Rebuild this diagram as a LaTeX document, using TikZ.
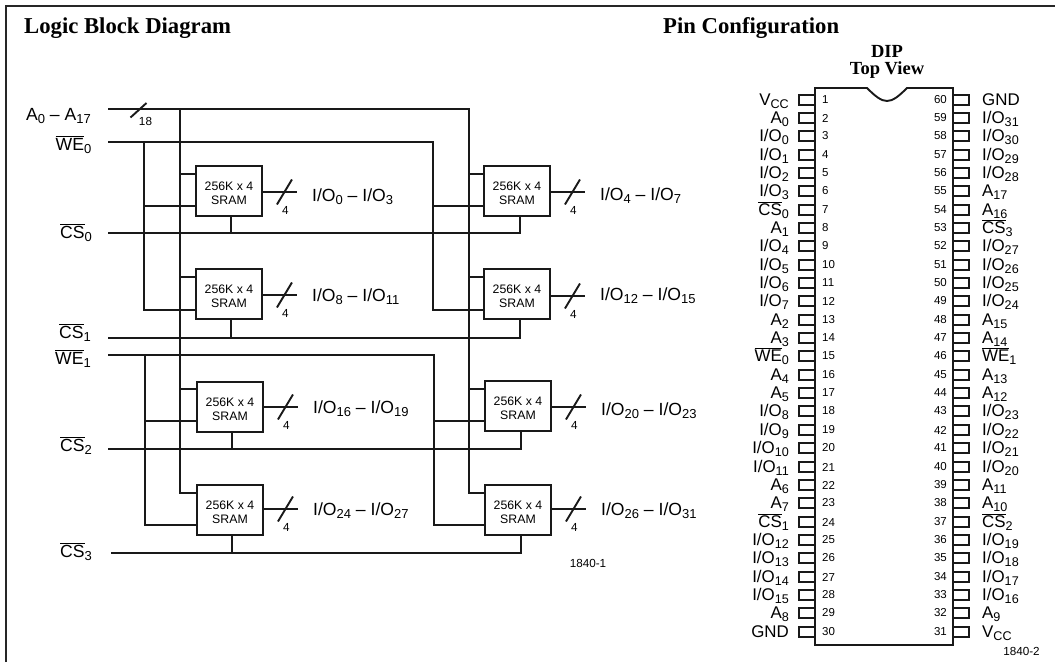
\documentclass[tikz,border=0pt]{standalone}
\usepackage{fontspec}
\setmainfont{Liberation Sans}
\newfontfamily\headfont{Liberation Serif}[BoldFont={Liberation Serif Bold}]
\newcommand\sbs[1]{\raisebox{-3.4pt}{\fontsize{13}{13}\selectfont #1}}
\newcommand\pbs[1]{\raisebox{-3.4pt}{\fontsize{12.6}{13}\selectfont #1}}
\newcommand\ovl[1]{\vbox{\hrule height 0.9pt\kern 0.9pt\hbox{#1}}}
\newcommand\IO[1]{I/O\sbs{#1}}
\newcommand\PO[1]{I/O\pbs{#1}}
\tikzset{
  x=1pt,y=-1pt,
  wire/.style={line width=1.9pt,black!90,line cap=rect},
  framework/.style={line width=2pt,black!85},
  srambox/.style={draw=black!90,line width=1.9pt,minimum width=66pt,minimum height=50pt,inner sep=0pt,align=center,font=\fontsize{12.3}{14}\selectfont},
  sig/.style={anchor=base east,inner sep=0pt,font=\fontsize{17.6}{17.6}\selectfont},
  outlab/.style={anchor=base west,inner sep=0pt,font=\fontsize{17.6}{17.6}\selectfont},
  pinleft/.style={anchor=base east,inner sep=0pt,font=\fontsize{16.9}{17}\selectfont},
  pinright/.style={anchor=base west,inner sep=0pt,font=\fontsize{16.9}{17}\selectfont},
  tiny4/.style={inner sep=0pt,font=\fontsize{11.7}{11.7}\selectfont},
  head/.style={anchor=base west,inner sep=0pt,font=\headfont\bfseries\fontsize{22.7}{23}\selectfont},
  subhead/.style={inner sep=0pt,anchor=base,font=\headfont\bfseries\fontsize{18.5}{19}\selectfont},
  pinbox/.style={draw=black!90,line width=1.9pt,minimum width=16pt,minimum height=10pt,inner sep=0pt},
  pinnum/.style={inner sep=0pt,font=\fontsize{11.5}{11.5}\selectfont},
}
\begin{document}
\begin{tikzpicture}
\useasboundingbox (0,0) rectangle (1055,662);
% frame
\coordinate (fa) at (6,662); \coordinate (fb) at (6,6); \coordinate (fc) at (1055,6);
\draw[framework] (fa) -- (fb) -- (fc);
\node[head] (h1) at (24,33) {Logic Block Diagram};
\node[head] (h2) at (663,33) {Pin Configuration};
\node[subhead] (h3) at (887,57) {DIP};
\node[subhead] (h4) at (887,74) {Top View};

% SRAM boxes
\foreach \n/\cx/\cy in {a/229/191,b/229/294,c/230/407,d/230/510,e/517/191,f/517/294,g/518/406,h/518/510}
  \node[srambox] (\n) at (\cx,\cy) {\rule{0pt}{12.6pt}256K x 4\\SRAM};

% signal labels
\node[sig] (lA)  at (91,120.5) {A\sbs{0} – A\sbs{17}};
\node[sig] (lW0) at (91.5,150) {\ovl{WE}\sbs{0}};
\node[sig] (lC0) at (92,238) {\ovl{CS}\sbs{0}};
\node[sig] (lC1) at (91,338) {\ovl{CS}\sbs{1}};
\node[sig] (lW1) at (91,364) {\ovl{WE}\sbs{1}};
\node[sig] (lC2) at (92,451.5) {\ovl{CS}\sbs{2}};
\node[sig] (lC3) at (92,557) {\ovl{CS}\sbs{3}};

% free ends of the input lines
\coordinate (iA)  at (109,109);
\coordinate (iW0) at (109,142);
\coordinate (iC0) at (109,233);
\coordinate (iC1) at (109,338);
\coordinate (iW1) at (109,355);
\coordinate (iC2) at (109,449);
\coordinate (iC3) at (112,553);

% address bus
\coordinate (aT) at (469,109);
\coordinate (lT) at (180,109);
\coordinate (aB) at (469,493);
\coordinate (lB) at (180,493);
\draw[wire] (iA) -- (aT) -- (aB) -- (h.west |- aB);
\draw[wire] (lT) -- (lB) -- (d.west |- lB);
\coordinate (y1) at (0,174); \coordinate (y2) at (0,277); \coordinate (y3) at (0,389);
\draw[wire] (lT |- y1) -- (a.west |- y1);
\draw[wire] (lT |- y2) -- (b.west |- y2);
\draw[wire] (lT |- y3) -- (c.west |- y3);
\draw[wire] (aT |- y1) -- (e.west |- y1);
\draw[wire] (aT |- y2) -- (f.west |- y2);
\draw[wire] (aT |- y3) -- (g.west |- y3);

% write enables
\coordinate (w0T) at (433,142);
\coordinate (w0B) at (433,310);
\coordinate (w0L) at (144,142);
\coordinate (w0M) at (144,310);
\coordinate (y4) at (0,206);
\draw[wire] (iW0) -- (w0T) -- (w0B) -- (f.west |- w0B);
\draw[wire] (w0L) -- (w0M) -- (b.west |- w0M);
\draw[wire] (w0L |- y4) -- (a.west |- y4);
\draw[wire] (w0T |- y4) -- (e.west |- y4);
\coordinate (w1T) at (434,355);
\coordinate (w1B) at (434,525);
\coordinate (w1L) at (145,355);
\coordinate (w1M) at (145,525);
\coordinate (y5) at (0,421);
\draw[wire] (iW1) -- (w1T) -- (w1B) -- (h.west |- w1B);
\draw[wire] (w1L) -- (w1M) -- (d.west |- w1M);
\draw[wire] (w1L |- y5) -- (c.west |- y5);
\draw[wire] (w1T |- y5) -- (g.west |- y5);

% chip selects
\foreach \st/\l/\r in {iC0/a/e,iC1/b/f,iC2/c/g,iC3/d/h}{
  \coordinate (\r j) at ([xshift=3pt]\r.south);
  \coordinate (\l j) at ([xshift=2pt]\l.south);
  \draw[wire] (\st) -- (\r j |- \st) -- (\r j);
  \draw[wire] (\l j |- \st) -- (\l j);
}

% outputs: box / y of stub / baseline of label / text
\foreach \n/\ly/\by/\t in {a/192/201.5/{\IO{0} – \IO{3}},b/295/301.5/{\IO{8} – \IO{11}},c/407/413/{\IO{16} – \IO{19}},d/509/515/{\IO{24} – \IO{27}},e/192/200/{\IO{4} – \IO{7}},f/296/300/{\IO{12} – \IO{15}},g/407/415/{\IO{20} – \IO{23}},h/509/515/{\IO{26} – \IO{31}}}{
  \coordinate (\n m) at (\n.east |- 0,\ly);
  \coordinate (\n o) at ([xshift=34pt]\n m);
  \coordinate (\n s1) at ([xshift=14pt,yshift=-12.5pt]\n m);
  \coordinate (\n s2) at ([xshift=29pt,yshift=12.5pt]\n m);
  \draw[wire,line cap=butt] (\n m) -- (\n o);
  \draw[wire,line cap=butt] (\n s1) -- (\n s2);
  \node[tiny4] (\n n) at ([xshift=22.5pt,yshift=-18pt]\n m) {4};
  \node[outlab] (\n t) at ([xshift=49pt]\n.east |- 0,\by) {\t};
}
% bus width label
\coordinate (bs1) at (130.5,117.5);
\coordinate (bs2) at (146.5,103);
\draw[wire,line cap=butt] (bs1) -- (bs2);
\node[tiny4] (b18) at (145.5,121) {18};
\node[tiny4,anchor=base] (fig1) at (588,567) {1840-1};

% DIP package
\coordinate (p1) at (815,645); \coordinate (p2) at (815,88); \coordinate (p3) at (867,88);
\coordinate (p4) at (907,88); \coordinate (p5) at (953,88); \coordinate (p6) at (953,645);
\draw[line width=1.9pt,black!90] (p1) -- (p2) -- (p3) .. controls (875,96) and (881,101) .. (887,101) .. controls (893,101) and (899,96) .. (p4) -- (p5) -- (p6) -- cycle;

\def\ps{18.35}
\foreach \i/\t in {1/V\pbs{CC},2/A\pbs{0},3/\PO{0},4/\PO{1},5/\PO{2},6/\PO{3},7/\ovl{CS}\pbs{0},8/A\pbs{1},9/\PO{4},10/\PO{5},11/\PO{6},12/\PO{7},13/A\pbs{2},14/A\pbs{3},15/\ovl{WE}\pbs{0},16/A\pbs{4},17/A\pbs{5},18/\PO{8},19/\PO{9},20/\PO{10},21/\PO{11},22/A\pbs{6},23/A\pbs{7},24/\ovl{CS}\pbs{1},25/\PO{12},26/\PO{13},27/\PO{14},28/\PO{15},29/A\pbs{8},30/GND}{
  \pgfmathsetmacro\yy{round(99.5+(\i-1)*\ps)}
  \node[pinbox] (pl\i) at (807,\yy) {};
  \node[pinnum,anchor=west] (nl\i) at (822,\yy) {\i};
  \node[pinleft] (tl\i) at (789,\yy+5.5) {\t};
}
\foreach \i/\t in {60/GND,59/\PO{31},58/\PO{30},57/\PO{29},56/\PO{28},55/A\pbs{17},54/A\pbs{16},53/\ovl{CS}\pbs{3},52/\PO{27},51/\PO{26},50/\PO{25},49/\PO{24},48/A\pbs{15},47/A\pbs{14},46/\ovl{WE}\pbs{1},45/A\pbs{13},44/A\pbs{12},43/\PO{23},42/\PO{22},41/\PO{21},40/\PO{20},39/A\pbs{11},38/A\pbs{10},37/\ovl{CS}\pbs{2},36/\PO{19},35/\PO{18},34/\PO{17},33/\PO{16},32/A\pbs{9},31/V\pbs{CC}}{
  \pgfmathsetmacro\yy{round(99.5+(60-\i)*\ps)}
  \node[pinbox] (pr\i) at (961,\yy) {};
  \node[pinnum,anchor=east] (nr\i) at (947,\yy) {\i};
  \node[pinright] (tr\i) at (982,\yy+5.5) {\t};
}
\node[tiny4,anchor=base] (fig2) at (1021.5,655) {1840-2};
\end{tikzpicture}
\end{document}
